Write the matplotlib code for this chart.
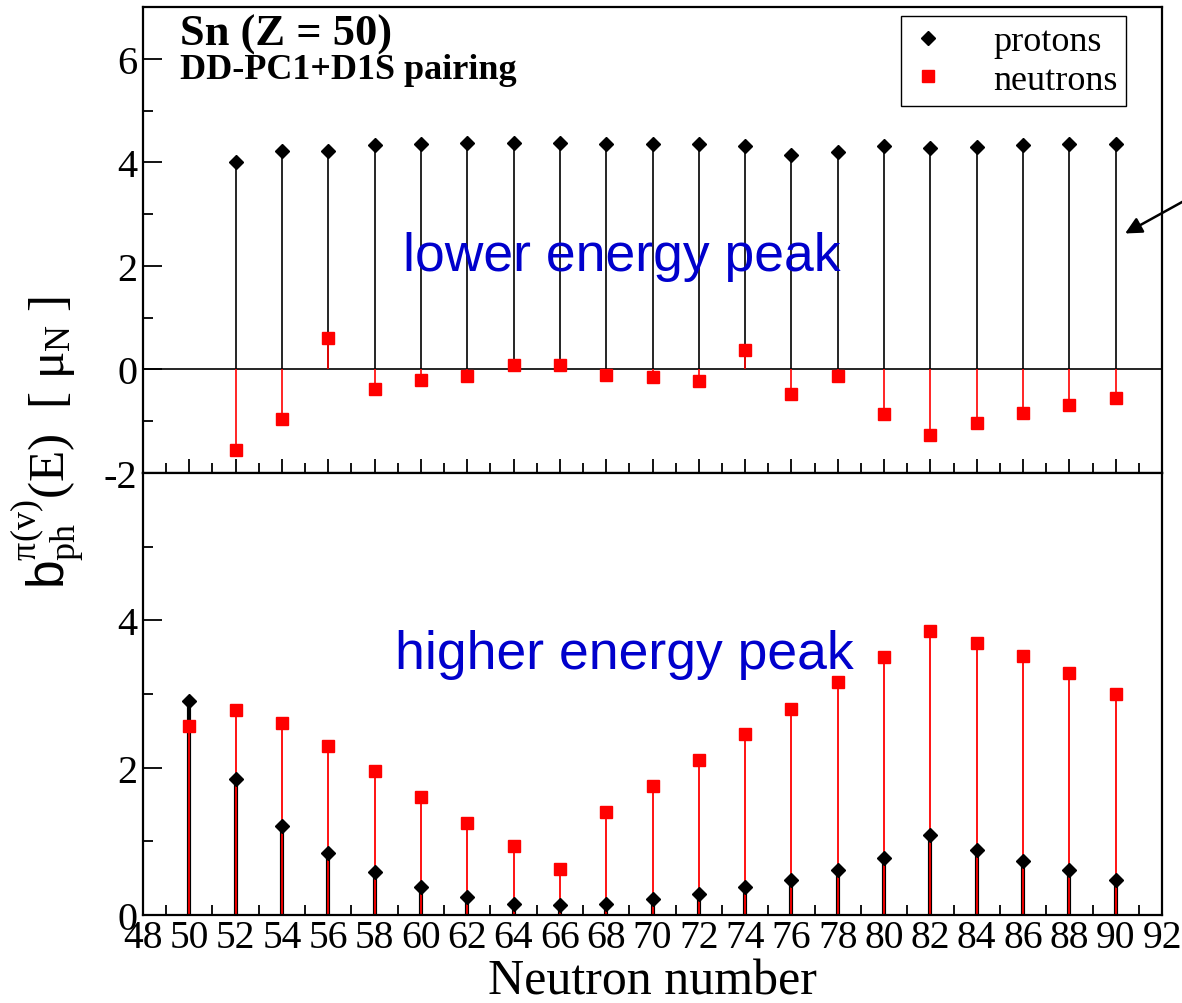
import matplotlib
matplotlib.use("Agg")
import matplotlib.pyplot as plt
from matplotlib.ticker import MultipleLocator

plt.rcParams['font.family'] = ['Liberation Serif', 'DejaVu Serif']
plt.rcParams['mathtext.fontset'] = 'custom'
plt.rcParams['mathtext.rm'] = 'Liberation Serif'
plt.rcParams['mathtext.it'] = 'Liberation Serif:italic'
plt.rcParams['mathtext.sf'] = 'Liberation Sans'
plt.rcParams['mathtext.bf'] = 'Liberation Serif:bold'
plt.rcParams['axes.unicode_minus'] = False

# ---- data ----
N_low = [52, 54, 56, 58, 60, 62, 64, 66, 68, 70, 72, 74, 76, 78, 80, 82, 84, 86, 88, 90]
prot_low = [4.00, 4.21, 4.21, 4.34, 4.36, 4.38, 4.38, 4.38, 4.36, 4.36,
            4.36, 4.32, 4.15, 4.19, 4.32, 4.27, 4.30, 4.34, 4.36, 4.36]
neut_low = [-1.56, -0.95, 0.60, -0.37, -0.21, -0.12, 0.08, 0.08, -0.10, -0.15,
            -0.23, 0.37, -0.48, -0.12, -0.87, -1.27, -1.04, -0.85, -0.69, -0.56]

N_high = [50, 52, 54, 56, 58, 60, 62, 64, 66, 68, 70, 72, 74, 76, 78, 80, 82, 84, 86, 88, 90]
prot_high = [2.90, 1.85, 1.21, 0.84, 0.58, 0.38, 0.25, 0.15, 0.135, 0.15, 0.22,
             0.28, 0.38, 0.47, 0.61, 0.78, 1.08, 0.88, 0.73, 0.61, 0.48]
neut_high = [2.56, 2.78, 2.60, 2.30, 1.95, 1.60, 1.25, 0.94, 0.62, 1.40, 1.75,
             2.11, 2.46, 2.80, 3.16, 3.50, 3.85, 3.69, 3.51, 3.29, 3.00]

xticks = list(range(48, 93, 2))

fig = plt.figure(figsize=(11.82, 10.04), dpi=100)
L, R = 143/1182, 1162/1182
ax1 = fig.add_axes([L, 1-474/1004, R-L, (474-8)/1004])
ax2 = fig.add_axes([L, 1-916/1004, R-L, (916-474)/1004])

RED = '#ff0000'
BLUE = '#0000cc'

# top panel
ax1.axhline(0, color='black', lw=1.2, zorder=1)
ax1.vlines(N_low, 0, prot_low, color='black', lw=1.2, zorder=2)
ax1.vlines(N_low, 0, neut_low, color=RED, lw=1.2, zorder=2)
ax1.plot(N_low, prot_low, ls='none', marker='D', ms=7, color='black', label='protons', zorder=3)
ax1.plot(N_low, neut_low, ls='none', marker='s', ms=8, color=RED, label='neutrons', zorder=3)
ax1.set_ylim(-2, 7)
ax1.set_xlim(48, 92)

# bottom panel
ax2.vlines(N_high, 0, prot_high, color='black', lw=3.0, zorder=2)
ax2.vlines(N_high, 0, neut_high, color=RED, lw=1.3, zorder=2.5)
ax2.plot(N_high, neut_high, ls='none', marker='s', ms=8, color=RED, zorder=3)
ax2.plot(N_high, prot_high, ls='none', marker='D', ms=7, color='black', zorder=4)
ax2.set_ylim(0, 6)
ax2.set_xlim(48, 92)

for ax in (ax1, ax2):
    for s in ax.spines.values():
        s.set_linewidth(1.6)
    ax.xaxis.set_major_locator(MultipleLocator(2))
    ax.xaxis.set_minor_locator(MultipleLocator(1))
    ax.yaxis.set_major_locator(MultipleLocator(2))
    ax.yaxis.set_minor_locator(MultipleLocator(1))
    ax.tick_params(axis='x', which='major', direction='in', length=10, width=1.3,
                   top=False, labelsize=28.5, pad=3)
    ax.tick_params(axis='x', which='minor', direction='in', length=7, width=1.3, top=False)
    ax.tick_params(axis='y', which='major', direction='in', length=14, width=1.3,
                   right=False, labelsize=29, pad=4)
    ax.tick_params(axis='y', which='minor', direction='in', length=7, width=1.3, right=False)

ax1.tick_params(axis='x', labelbottom=False)
ax1.set_yticks([-2, 0, 2, 4, 6])
ax2.set_yticks([0, 2, 4])
ax2.set_xticks(xticks)
ax2.set_xticklabels([str(v) for v in xticks])
ax2.set_xlabel('Neutron number', fontsize=36, labelpad=1)

# texts
ax1.text(0.036, 0.985, 'Sn (Z = 50)', transform=ax1.transAxes, fontsize=32,
         fontweight='bold', va='top', ha='left')
ax1.text(0.036, 0.902, 'DD-PC1+D1S pairing', transform=ax1.transAxes, fontsize=26,
         fontweight='bold', va='top', ha='left')
ax1.text(68.66, 2.2, 'lower energy peak', color=BLUE, fontsize=38.5,
         family='Liberation Sans', ha='center', va='center')
ax2.text(68.8, 3.54, 'higher energy peak', color=BLUE, fontsize=38.5,
         family='Liberation Sans', ha='center', va='center')

leg = ax1.legend(loc='upper right', bbox_to_anchor=(0.965, 0.981), fontsize=26,
                 frameon=True, fancybox=False, edgecolor='black', framealpha=1,
                 handlelength=1.0, handletextpad=1.3, borderpad=0.25,
                 labelspacing=0.15, borderaxespad=0)
leg.get_frame().set_linewidth(1.0)

fig.text(0.040, 1-443/1004,
         r'$\mathsf{b}_{\mathrm{ph}}^{\mathrm{\pi(v)}}\mathrm{(E)}\ \ [\ \mathrm{μ}_{\mathrm{N}}\ ]$',
         rotation=90, fontsize=37, ha='center', va='center')

# arrow pointing from outside the frame
ax1.annotate('', xy=(90.3, 2.6), xycoords='data',
             xytext=(1.02, 1-190/1004), textcoords='figure fraction',
             arrowprops=dict(arrowstyle='-|>', color='black', lw=1.8, mutation_scale=25),
             annotation_clip=False)

fig.savefig('out.png', dpi=100)
